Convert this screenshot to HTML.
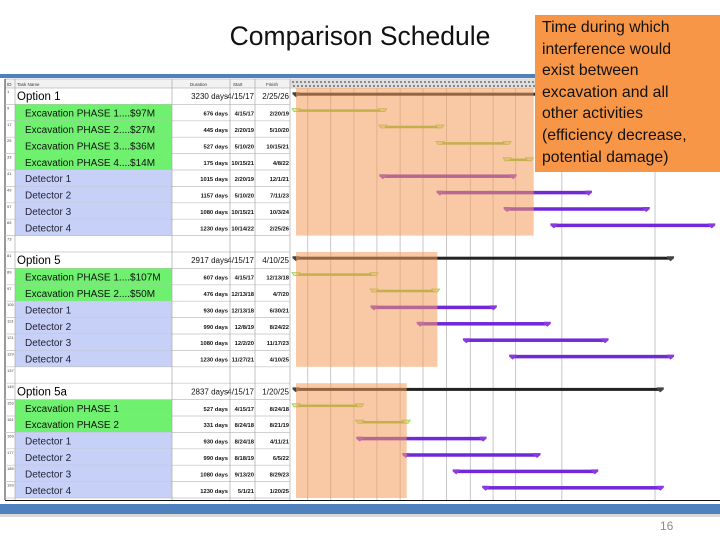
<!DOCTYPE html>
<html><head><meta charset="utf-8"><style>
html,body{margin:0;padding:0;background:#fff;}
body{width:720px;height:540px;overflow:hidden;position:relative;font-family:"Liberation Sans",sans-serif;}
#title{position:absolute;left:190px;top:21px;width:340px;text-align:center;font-size:26.5px;color:#111;}
#note{position:absolute;left:535px;top:15px;width:185px;height:157px;background:#f79646;box-sizing:border-box;padding:2px 0 0 7px;font-size:15.8px;line-height:21.6px;color:#111;white-space:nowrap;}
#pg{position:absolute;left:660px;top:519px;font-size:12px;color:#8c8c8c;}
</style></head><body>
<div id="title">Comparison Schedule</div>
<svg id="g" width="720" height="540" style="position:absolute;left:0;top:0"></svg>
<div id="note">Time during which<br>interference would<br>exist between<br>excavation and all<br>other activities<br>(efficiency decrease,<br>potential damage)</div>
<div id="pg">16</div>
<script>
const taskNames=["Option 1","Excavation PHASE 1....$97M","Excavation PHASE 2....$27M","Excavation PHASE 3....$36M","Excavation PHASE 4....$14M","Detector 1","Detector 2","Detector 3","Detector 4","","Option 5","Excavation PHASE 1....$107M","Excavation PHASE 2....$50M","Detector 1","Detector 2","Detector 3","Detector 4","","Option 5a","Excavation PHASE 1","Excavation PHASE 2","Detector 1","Detector 2","Detector 3","Detector 4"];
const taskTypes=["sum","exc","exc","exc","exc","det","det","det","det","","sum","exc","exc","det","det","det","det","","sum","exc","exc","det","det","det","det"];
const durations=["3230 days","676 days","445 days","527 days","175 days","1015 days","1157 days","1080 days","1230 days","","2917 days","607 days","476 days","930 days","990 days","1080 days","1230 days","","2837 days","527 days","331 days","930 days","990 days","1080 days","1230 days"];
const starts=["4/15/17","4/15/17","2/20/19","5/10/20","10/15/21","2/20/19","5/10/20","10/15/21","10/14/22","","4/15/17","4/15/17","12/13/18","12/13/18","12/8/19","12/2/20","11/27/21","","4/15/17","4/15/17","8/24/18","8/24/18","8/18/19","9/13/20","5/1/21"];
const finishes=["2/25/26","2/20/19","5/10/20","10/15/21","4/8/22","12/1/21","7/11/23","10/3/24","2/25/26","","4/10/25","12/13/18","4/7/20","6/30/21","8/24/22","11/17/23","4/10/25","","1/20/25","8/24/18","8/21/19","4/11/21","6/5/22","8/29/23","1/20/25"];
const shadeStarts=["4/15/17","4/15/17","4/15/17"];
const shadeEnds=["5/10/22","4/20/20","8/25/19"];
const shadeFirstRow=[0,10,18];
const shadeLastRow=[8,16,24];
const gridDates=["7/15/17","1/10/18","7/10/18","1/5/19","7/5/19","12/30/19","6/30/20","1/2/21","6/28/21","12/20/21","12/15/22","12/10/24","12/5/26"];

const svg=document.getElementById('g');const NS="http://www.w3.org/2000/svg";
function mk(tag,attrs,parent){const e=document.createElementNS(NS,tag);for(const k in attrs)e.setAttribute(k,attrs[k]);(parent||svg).appendChild(e);return e;}
function dnum(s){const p=s.split('/');return Date.UTC(2000+ +p[2],+p[0]-1,+p[1])/86400000;}
const d0=dnum("4/15/17");
function xs(s){return 296+(dnum(s)-d0)/365.25*46.9;}
const ROW0=88,RH=16.4;
function rowTop(i){return ROW0+i*RH;}

let e=mk('rect',{x:0,y:74,width:720,height:4,fill:'#4f81bd'});

e=mk('rect',{x:5,y:79,width:715,height:9,fill:'#f2f2f2',stroke:'#999','stroke-width':0.5});

const hdr=[["ID",7],["Task Name",17],["Duration",190],["Start",233],["Finish",266]];
hdr.forEach(h=>{const t=mk('text',{x:h[1],y:86,'font-size':4.5,fill:'#333'});t.textContent=h[0];
});
e=mk('rect',{x:290,y:80,width:430,height:8,fill:'#d8d8d8',opacity:0.7});

for(let x=292;x<720;x+=4){mk('rect',{x:x,y:81,width:2,height:2,fill:'#888'});mk('rect',{x:x+1,y:85,width:2,height:2,fill:'#888'});}
gridDates.forEach(g=>{const x=xs(g);const l=mk('line',{x1:x,y1:88,x2:x,y2:500,stroke:'#c8c8c8','stroke-width':1});
});
mk('line',{x1:5,y1:79,x2:5,y2:500,stroke:'#333','stroke-width':1});
taskNames.forEach((n,i)=>{
 const y=rowTop(i),tp=taskTypes[i];
 if(tp==='exc'||tp==='det'){const r=mk('rect',{x:15,y:y,width:157,height:RH,fill:tp==='exc'?'#6ff06f':'#c7d1f7'});
  }
 mk('line',{x1:5,y1:y+RH,x2:290,y2:y+RH,stroke:'#c0c0c0','stroke-width':0.7});
 const id=mk('text',{x:7,y:y+5,'font-size':4,fill:'#444'});id.textContent=String(i*8+1);
 if(n){
  const t=mk('text',{x:tp==='sum'?17:25,y:y+RH/2+4,'font-size':tp==='sum'?11.5:10,fill:tp==='exc'?'#111':(tp==='det'?'#223':'#000')});
  t.textContent=n;
  const fs=tp==='sum'?8:5.8;
  [[durations[i],228],[starts[i],254],[finishes[i],289]].forEach(c=>{
   const tt=mk('text',{x:c[1],y:y+RH/2+3,'font-size':fs,'text-anchor':'end',fill:'#111','font-weight':tp==='sum'?'normal':'bold'});
   tt.textContent=c[0];});
 }
});
[15,172,230,255,290].forEach(x=>mk('line',{x1:x,y1:79,x2:x,y2:500,stroke:'#aaa','stroke-width':0.7}));
taskNames.forEach((n,i)=>{
 if(!n)return;const tp=taskTypes[i];const x1=xs(starts[i]),x2=xs(finishes[i]);const y=rowTop(i)+RH/2-2;
 let col,h;
 if(tp==='sum'){col='#222';h=3;}else if(tp==='exc'){col='#8cc63f';h=2.5;}else{col='#7028d8';h=3.5;}
 const b=mk('rect',{x:x1,y:y-h/2,width:x2-x1,height:h,fill:col});
 
 [x1,x2].forEach(x=>{
  if(tp==='exc'){mk('path',{d:`M${x-4},${y-2} h8 l-2,3 h-4 z`,fill:'#d8f0a8',stroke:'#9acb50','stroke-width':0.8});}
  else{const c=tp==='sum'?'#444':'#8a3ae0';mk('path',{d:`M${x-3.5},${y-2} h7 v2 l-3.5,3 l-3.5,-3 z`,fill:c});}
 });
});
shadeStarts.forEach((s,k)=>{
 const x1=xs(s),x2=xs(shadeEnds[k]);const y1=rowTop(shadeFirstRow[k]),y2=rowTop(shadeLastRow[k]+1);
 const r=mk('rect',{x:x1,y:y1,width:x2-x1,height:y2-y1,fill:'#f39c5a',opacity:0.55});
 
});
mk('line',{x1:5,y1:500.5,x2:720,y2:500.5,stroke:'#111','stroke-width':1});
e=mk('rect',{x:0,y:504,width:720,height:10,fill:'#4f81bd'});
mk('rect',{x:0,y:514,width:720,height:3,fill:'#d9d9d9'});
</script>
</body></html>
